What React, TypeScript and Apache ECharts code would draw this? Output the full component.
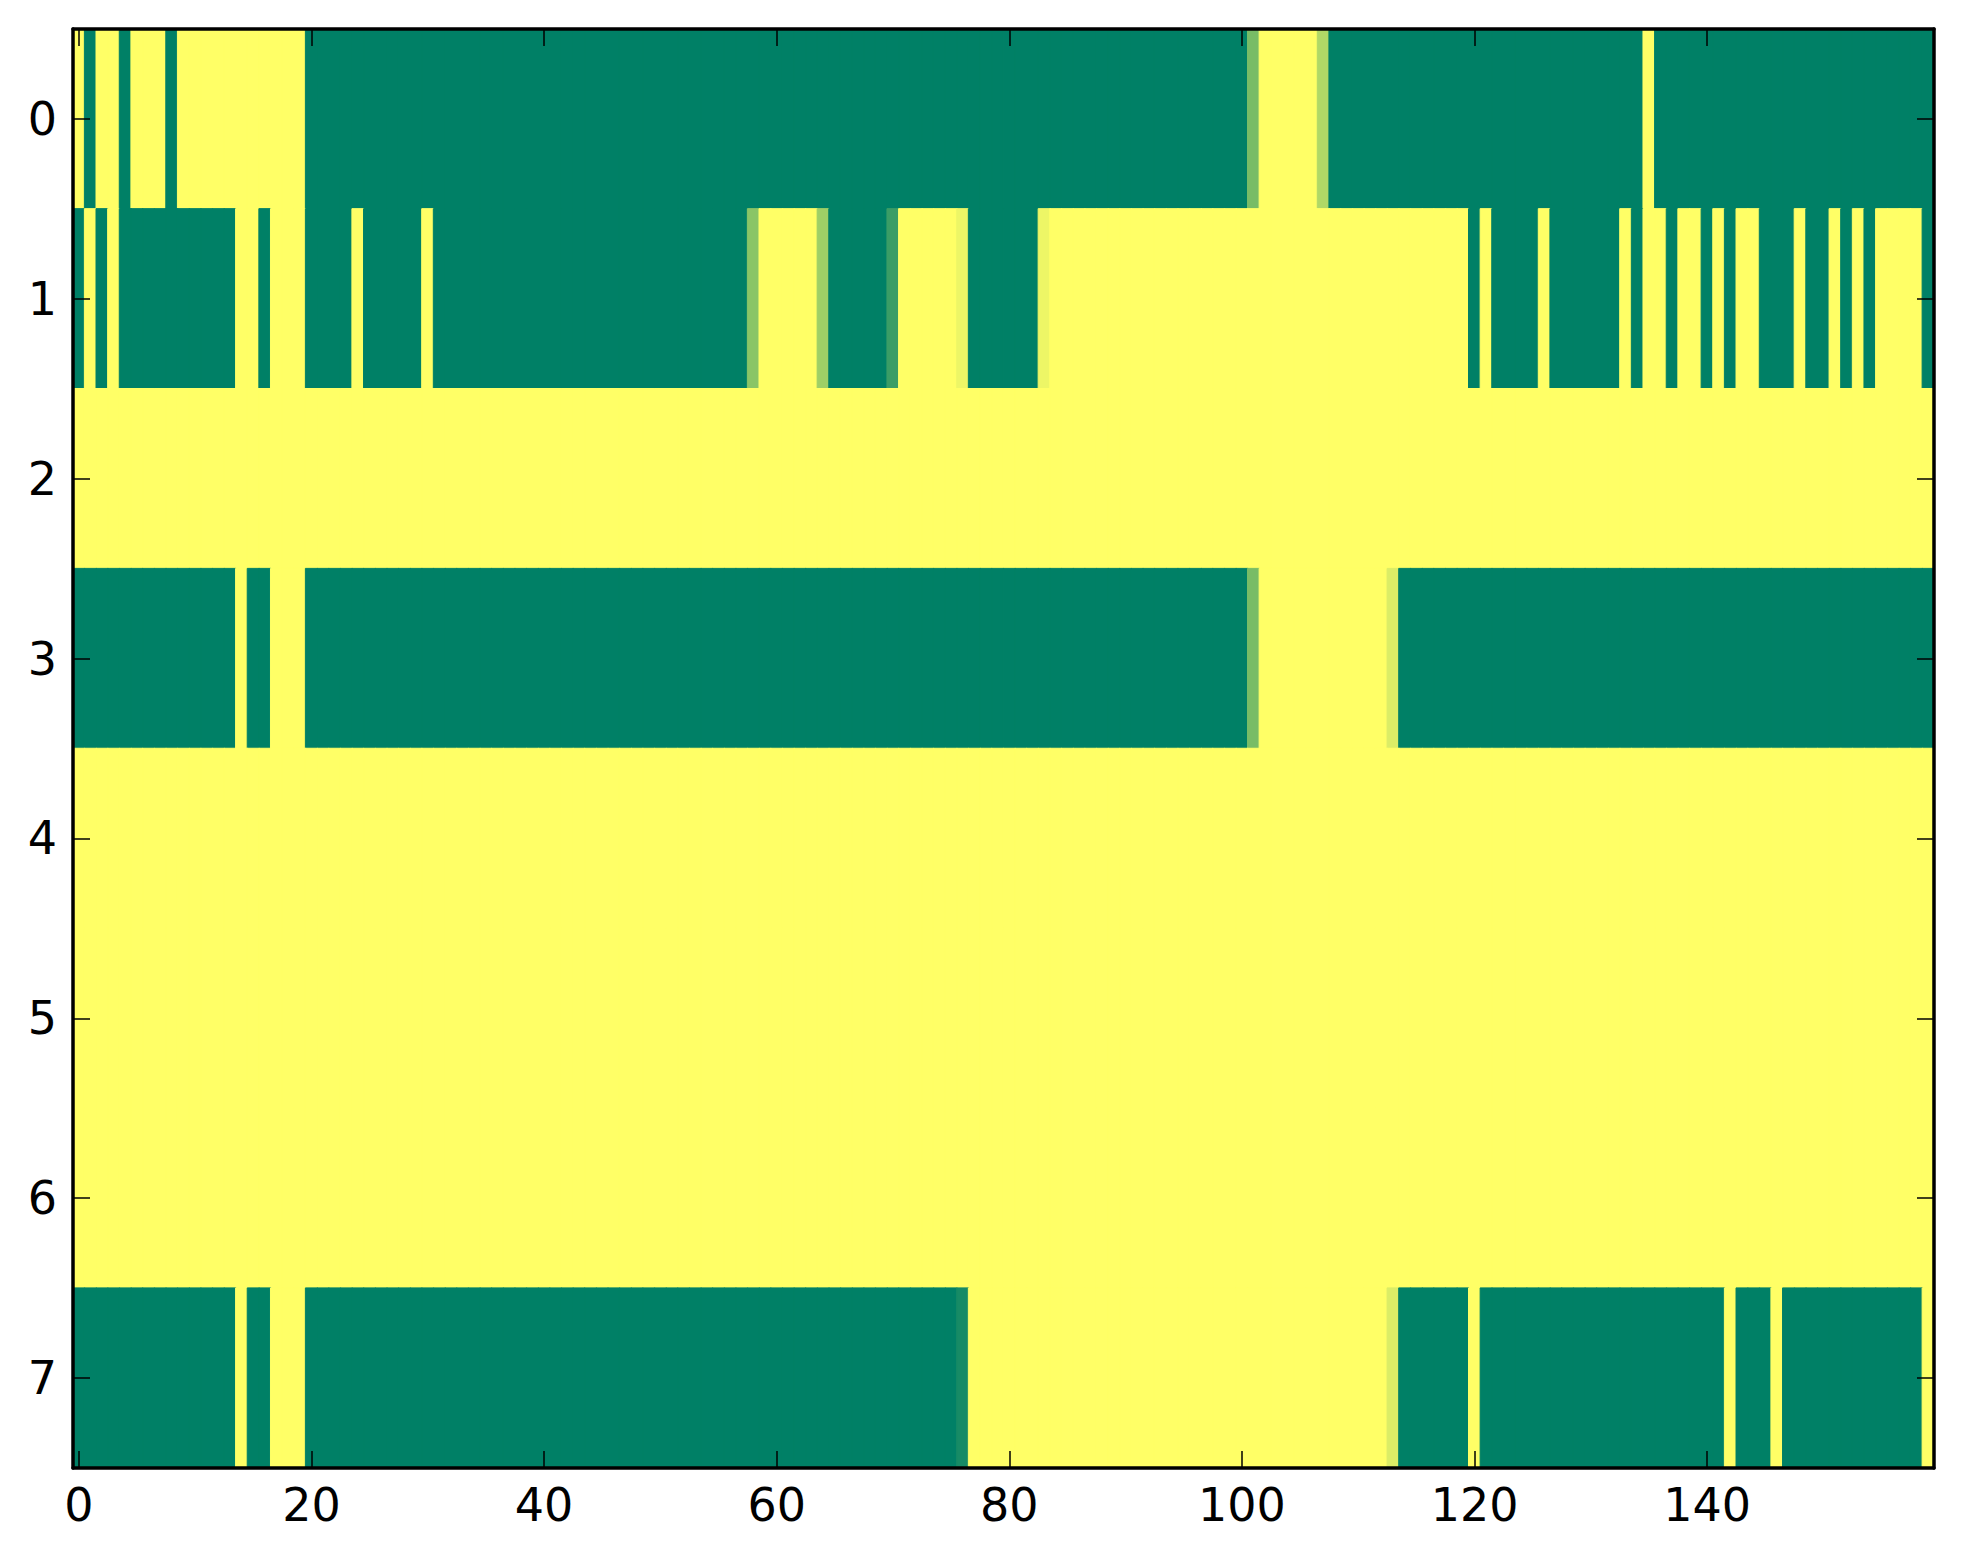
import React, { useEffect, useRef } from 'react';
import * as echarts from 'echarts';

// Column indices (0..159) used as x categories, row indices as y categories
const xCategories: string[] = Array.from({ length: 160 }, (_, i) => String(i));
const yCategories: string[] = ['0', '1', '2', '3', '4', '5', '6', '7'];
const xTickLabels: string[] = ['0', '20', '40', '60', '80', '100', '120', '140'];
const yTickLabels: string[] = ['0', '1', '2', '3', '4', '5', '6', '7'];

// Cell values per row (0 = dark green, 1 = yellow), 160 columns each
const row0: number[] = [
  1,0,1,1,0,1,1,1,0,1,1,1,1,1,1,1,1,1,1,1,
  0,0,0,0,0,0,0,0,0,0,0,0,0,0,0,0,0,0,0,0,
  0,0,0,0,0,0,0,0,0,0,0,0,0,0,0,0,0,0,0,0,
  0,0,0,0,0,0,0,0,0,0,0,0,0,0,0,0,0,0,0,0,
  0,0,0,0,0,0,0,0,0,0,0,0,0,0,0,0,0,0,0,0,
  0,0.47,1,1,1,1,1,0.69,0,0,0,0,0,0,0,0,0,0,0,0,
  0,0,0,0,0,0,0,0,0,0,0,0,0,0,0,1,0,0,0,0,
  0,0,0,0,0,0,0,0,0,0,0,0,0,0,0,0,0,0,0,0,
];
const row1: number[] = [
  0,1,0,1,0,0,0,0,0,0,0,0,0,0,1,1,0,1,1,1,
  0,0,0,0,1,0,0,0,0,0,1,0,0,0,0,0,0,0,0,0,
  0,0,0,0,0,0,0,0,0,0,0,0,0,0,0,0,0,0,0.54,1,
  1,1,1,1,0.62,0,0,0,0,0,0.23,1,1,1,1,1,0.93,0,0,0,
  0,0,0,0.93,1,1,1,1,1,1,1,1,1,1,1,1,1,1,1,1,
  1,1,1,1,1,1,1,1,1,1,1,1,1,1,1,1,1,1,1,1,
  0,1,0,0,0,0,1,0,0,0,0,0,0,1,0,1,1,0,1,1,
  0,1,0,1,1,0,0,0,1,0,0,1,0,1,0,1,1,1,1,0,
];
const row2: number[] = [
  1,1,1,1,1,1,1,1,1,1,1,1,1,1,1,1,1,1,1,1,
  1,1,1,1,1,1,1,1,1,1,1,1,1,1,1,1,1,1,1,1,
  1,1,1,1,1,1,1,1,1,1,1,1,1,1,1,1,1,1,1,1,
  1,1,1,1,1,1,1,1,1,1,1,1,1,1,1,1,1,1,1,1,
  1,1,1,1,1,1,1,1,1,1,1,1,1,1,1,1,1,1,1,1,
  1,1,1,1,1,1,1,1,1,1,1,1,1,1,1,1,1,1,1,1,
  1,1,1,1,1,1,1,1,1,1,1,1,1,1,1,1,1,1,1,1,
  1,1,1,1,1,1,1,1,1,1,1,1,1,1,1,1,1,1,1,1,
];
const row3: number[] = [
  0,0,0,0,0,0,0,0,0,0,0,0,0,0,1,0,0,1,1,1,
  0,0,0,0,0,0,0,0,0,0,0,0,0,0,0,0,0,0,0,0,
  0,0,0,0,0,0,0,0,0,0,0,0,0,0,0,0,0,0,0,0,
  0,0,0,0,0,0,0,0,0,0,0,0,0,0,0,0,0,0,0,0,
  0,0,0,0,0,0,0,0,0,0,0,0,0,0,0,0,0,0,0,0,
  0,0.47,1,1,1,1,1,1,1,1,1,1,1,0.86,0,0,0,0,0,0,
  0,0,0,0,0,0,0,0,0,0,0,0,0,0,0,0,0,0,0,0,
  0,0,0,0,0,0,0,0,0,0,0,0,0,0,0,0,0,0,0,0,
];
const row4: number[] = [
  1,1,1,1,1,1,1,1,1,1,1,1,1,1,1,1,1,1,1,1,
  1,1,1,1,1,1,1,1,1,1,1,1,1,1,1,1,1,1,1,1,
  1,1,1,1,1,1,1,1,1,1,1,1,1,1,1,1,1,1,1,1,
  1,1,1,1,1,1,1,1,1,1,1,1,1,1,1,1,1,1,1,1,
  1,1,1,1,1,1,1,1,1,1,1,1,1,1,1,1,1,1,1,1,
  1,1,1,1,1,1,1,1,1,1,1,1,1,1,1,1,1,1,1,1,
  1,1,1,1,1,1,1,1,1,1,1,1,1,1,1,1,1,1,1,1,
  1,1,1,1,1,1,1,1,1,1,1,1,1,1,1,1,1,1,1,1,
];
const row5: number[] = [
  1,1,1,1,1,1,1,1,1,1,1,1,1,1,1,1,1,1,1,1,
  1,1,1,1,1,1,1,1,1,1,1,1,1,1,1,1,1,1,1,1,
  1,1,1,1,1,1,1,1,1,1,1,1,1,1,1,1,1,1,1,1,
  1,1,1,1,1,1,1,1,1,1,1,1,1,1,1,1,1,1,1,1,
  1,1,1,1,1,1,1,1,1,1,1,1,1,1,1,1,1,1,1,1,
  1,1,1,1,1,1,1,1,1,1,1,1,1,1,1,1,1,1,1,1,
  1,1,1,1,1,1,1,1,1,1,1,1,1,1,1,1,1,1,1,1,
  1,1,1,1,1,1,1,1,1,1,1,1,1,1,1,1,1,1,1,1,
];
const row6: number[] = [
  1,1,1,1,1,1,1,1,1,1,1,1,1,1,1,1,1,1,1,1,
  1,1,1,1,1,1,1,1,1,1,1,1,1,1,1,1,1,1,1,1,
  1,1,1,1,1,1,1,1,1,1,1,1,1,1,1,1,1,1,1,1,
  1,1,1,1,1,1,1,1,1,1,1,1,1,1,1,1,1,1,1,1,
  1,1,1,1,1,1,1,1,1,1,1,1,1,1,1,1,1,1,1,1,
  1,1,1,1,1,1,1,1,1,1,1,1,1,1,1,1,1,1,1,1,
  1,1,1,1,1,1,1,1,1,1,1,1,1,1,1,1,1,1,1,1,
  1,1,1,1,1,1,1,1,1,1,1,1,1,1,1,1,1,1,1,1,
];
const row7: number[] = [
  0,0,0,0,0,0,0,0,0,0,0,0,0,0,1,0,0,1,1,1,
  0,0,0,0,0,0,0,0,0,0,0,0,0,0,0,0,0,0,0,0,
  0,0,0,0,0,0,0,0,0,0,0,0,0,0,0,0,0,0,0,0,
  0,0,0,0,0,0,0,0,0,0,0,0,0,0,0,0,0.09,1,1,1,
  1,1,1,1,1,1,1,1,1,1,1,1,1,1,1,1,1,1,1,1,
  1,1,1,1,1,1,1,1,1,1,1,1,1,0.86,0,0,0,0,0,0,
  1,0,0,0,0,0,0,0,0,0,0,0,0,0,0,0,0,0,0,0,
  0,0,1,0,0,0,1,0,0,0,0,0,0,0,0,0,0,0,0,1,
];

const rows: number[][] = [row0, row1, row2, row3, row4, row5, row6, row7];

// "summer" colour map end points
const colorStops: string[] = ['#008066', '#ffff66'];

const FONT = "'DejaVu Sans', 'Liberation Sans', sans-serif";

export default function App() {
  const ref = useRef<HTMLDivElement>(null);

  useEffect(() => {
    if (!ref.current) return;
    const chart = echarts.init(ref.current, undefined, { renderer: 'svg' });

    const data: any[] = [];
    rows.forEach((row, y) => {
      row.forEach((v, x) => {
        const c = echarts.color.lerp(v, colorStops);
        data.push({ value: [x, y, v], itemStyle: { borderColor: c, borderWidth: 1 } });
      });
    });

    const xTickShow = (index: number) => xTickLabels.indexOf(xCategories[index]) >= 0;
    const yTickShow = (index: number) => yTickLabels.indexOf(yCategories[index]) >= 0;

    const axisLine = { show: true, onZero: false, lineStyle: { color: '#000', width: 3.5 } };
    const tickStyle = { color: '#000', width: 1.5 };

    chart.setOption({
      animation: false,
      backgroundColor: '#ffffff',
      grid: { left: 73, right: 29, top: 29, bottom: 96, containLabel: false },
      visualMap: {
        show: false,
        type: 'continuous',
        min: 0,
        max: 1,
        dimension: 2,
        inRange: { color: colorStops },
      },
      xAxis: [
        {
          type: 'category',
          data: xCategories,
          position: 'bottom',
          boundaryGap: true,
          z: 10,
          axisLine,
          axisTick: { show: true, inside: true, alignWithLabel: true, interval: xTickShow, length: 17, lineStyle: tickStyle },
          axisLabel: { show: true, interval: xTickShow, fontSize: 46, fontFamily: FONT, color: '#000', margin: 14 },
          splitLine: { show: false },
        },
        {
          type: 'category',
          data: xCategories,
          position: 'top',
          boundaryGap: true,
          z: 10,
          axisLine,
          axisTick: { show: true, inside: true, alignWithLabel: true, interval: xTickShow, length: 17, lineStyle: tickStyle },
          axisLabel: { show: false },
          splitLine: { show: false },
        },
      ],
      yAxis: [
        {
          type: 'category',
          data: yCategories,
          position: 'left',
          inverse: true,
          boundaryGap: true,
          z: 10,
          axisLine,
          axisTick: { show: true, inside: true, alignWithLabel: true, interval: yTickShow, length: 17, lineStyle: tickStyle },
          axisLabel: { show: true, interval: yTickShow, fontSize: 46, fontFamily: FONT, color: '#000', margin: 16 },
          splitLine: { show: false },
        },
        {
          type: 'category',
          data: yCategories,
          position: 'right',
          inverse: true,
          boundaryGap: true,
          z: 10,
          axisLine,
          axisTick: { show: true, inside: true, alignWithLabel: true, interval: yTickShow, length: 17, lineStyle: tickStyle },
          axisLabel: { show: false },
          splitLine: { show: false },
        },
      ],
      series: [
        {
          type: 'heatmap',
          xAxisIndex: 0,
          yAxisIndex: 0,
          data,
          emphasis: { disabled: true },
          progressive: 0,
        },
      ],
    });

    return () => chart.dispose();
  }, []);

  return (
    <div
      ref={ref}
      style={{ position: 'absolute', left: 0, top: 0, width: 1963, height: 1564, background: '#fff' }}
    />
  );
}
